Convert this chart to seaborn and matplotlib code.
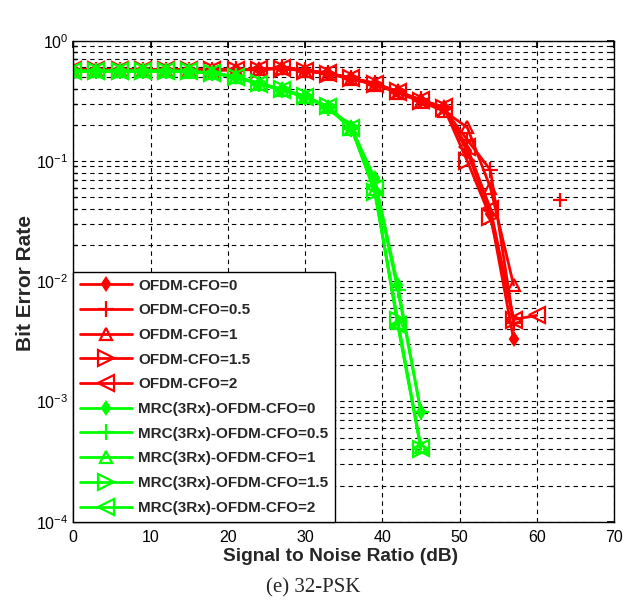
import numpy as np
import pandas as pd
import matplotlib
matplotlib.use("Agg")
import matplotlib.pyplot as plt
import seaborn as sns
from matplotlib.ticker import LogLocator, NullFormatter, MultipleLocator

sns.set_theme(style="white")
plt.rcParams['font.family'] = ['Liberation Sans', 'DejaVu Sans']
plt.rcParams['mathtext.fontset'] = 'custom'
plt.rcParams['mathtext.rm'] = 'Liberation Sans'
plt.rcParams['mathtext.it'] = 'Liberation Sans'

# ---- data ----
snr_red = [0, 3, 6, 9, 12, 15, 18, 21, 24, 27, 30, 33, 36, 39, 42, 45, 48, 51, 54, 57, 60]
snr_green = [0, 3, 6, 9, 12, 15, 18, 21, 24, 27, 30, 33, 36, 39, 42, 45]

ofdm_cfo0 = [0.575, 0.57, 0.575, 0.57, 0.575, 0.57, 0.575, 0.575, 0.58, 0.59, 0.565, 0.535, 0.49, 0.44, 0.38, 0.32, 0.28, 0.12, 0.036, 0.0033]
ofdm_cfo05 = [0.57, 0.575, 0.57, 0.575, 0.57, 0.575, 0.57, 0.58, 0.575, 0.60, 0.57, 0.54, 0.485, 0.445, 0.375, 0.325, 0.27, 0.15, 0.084, 0.0045]
ofdm_cfo05_extra_snr = [63]
ofdm_cfo05_extra = [0.047]
ofdm_cfo1 = [0.57, 0.57, 0.57, 0.57, 0.57, 0.57, 0.565, 0.575, 0.58, 0.59, 0.56, 0.53, 0.48, 0.43, 0.37, 0.31, 0.26, 0.19, 0.06, 0.0093]
ofdm_cfo15 = [0.575, 0.575, 0.575, 0.575, 0.575, 0.575, 0.575, 0.57, 0.575, 0.585, 0.565, 0.53, 0.49, 0.435, 0.38, 0.315, 0.275, 0.10, 0.034, 0.0048]
ofdm_cfo2 = [0.57, 0.57, 0.57, 0.57, 0.57, 0.57, 0.57, 0.575, 0.58, 0.59, 0.565, 0.535, 0.485, 0.44, 0.375, 0.32, 0.28, 0.13, 0.040, 0.0048, 0.0052]

mrc_cfo0 = [0.56, 0.56, 0.56, 0.56, 0.56, 0.555, 0.54, 0.50, 0.44, 0.395, 0.345, 0.28, 0.19, 0.072, 0.0093, 0.00082]
mrc_cfo05 = [0.56, 0.555, 0.56, 0.555, 0.56, 0.555, 0.535, 0.505, 0.435, 0.39, 0.34, 0.275, 0.185, 0.068, 0.0085, 0.00082]
mrc_cfo1 = [0.555, 0.56, 0.555, 0.56, 0.555, 0.55, 0.54, 0.495, 0.44, 0.39, 0.34, 0.28, 0.185, 0.058, 0.0045, 0.00042]
mrc_cfo15 = [0.56, 0.56, 0.56, 0.56, 0.56, 0.555, 0.54, 0.50, 0.445, 0.395, 0.345, 0.285, 0.19, 0.055, 0.0048, 0.00040]
mrc_cfo2 = [0.56, 0.555, 0.56, 0.555, 0.56, 0.555, 0.535, 0.50, 0.44, 0.39, 0.34, 0.28, 0.188, 0.06, 0.0043, 0.00041]

labels = ["OFDM-CFO=0", "OFDM-CFO=0.5", "OFDM-CFO=1", "OFDM-CFO=1.5", "OFDM-CFO=2",
          "MRC(3Rx)-OFDM-CFO=0", "MRC(3Rx)-OFDM-CFO=0.5", "MRC(3Rx)-OFDM-CFO=1",
          "MRC(3Rx)-OFDM-CFO=1.5", "MRC(3Rx)-OFDM-CFO=2"]

RED = "#ff0000"
GREEN = "#00ff00"

fig = plt.figure(figsize=(6.33, 6.01), dpi=100)
ax = fig.add_axes([0.1158, 0.1319, 0.8542, 0.8004])

series = [
    (snr_red[:20], ofdm_cfo0, RED, 'd', True, 6),
    (snr_red[:20], ofdm_cfo05, RED, '+', True, 11),
    (snr_red[:20], ofdm_cfo1, RED, '^', False, 9),
    (snr_red[:20], ofdm_cfo15, RED, '>', False, 11),
    (snr_red[:21], ofdm_cfo2, RED, '<', False, 11),
    (snr_green, mrc_cfo0, GREEN, 'd', True, 6),
    (snr_green, mrc_cfo05, GREEN, '+', True, 11),
    (snr_green, mrc_cfo1, GREEN, '^', False, 9),
    (snr_green, mrc_cfo15, GREEN, '>', False, 11),
    (snr_green, mrc_cfo2, GREEN, '<', False, 11),
]

handles = []
for (xs, ys, col, mk, filled, ms), lab in zip(series, labels):
    df = pd.DataFrame({"snr": xs, "ber": ys})
    sns.lineplot(data=df, x="snr", y="ber", ax=ax, color=col, marker=mk,
                 markersize=ms, markerfacecolor=(col if filled else 'none'),
                 markeredgecolor=col, markeredgewidth=1.6, linewidth=2.0,
                 label=lab, legend=False)
    handles.append(ax.lines[-1])

# isolated point of the CFO=0.5 curve
sns.scatterplot(x=ofdm_cfo05_extra_snr, y=ofdm_cfo05_extra, ax=ax, color=RED,
                marker='+', s=110, linewidth=1.6, legend=False)

ax.set_yscale('log')
ax.set_xlim(0, 70)
ax.set_ylim(1e-4, 1)
ax.xaxis.set_major_locator(MultipleLocator(10))
ax.yaxis.set_major_locator(LogLocator(base=10, numticks=10))
ax.yaxis.set_minor_locator(LogLocator(base=10, subs=np.arange(2, 10), numticks=20))
ax.yaxis.set_minor_formatter(NullFormatter())

ax.grid(True, which='major', axis='both', color='black', linestyle=(0, (4, 3.5)), linewidth=0.8)
ax.grid(True, which='minor', axis='y', color='black', linestyle=(0, (4, 3.5)), linewidth=0.8)
for s in ax.spines.values():
    s.set_color('black')
    s.set_linewidth(1.0)
ax.tick_params(which='both', direction='in', top=True, right=True, labelsize=11.5, colors='black')
ax.tick_params(which='major', length=5)
ax.tick_params(axis='x', which='major', pad=6)
ax.tick_params(which='minor', length=3, left=True, right=True)

ax.set_xlabel("Signal to Noise Ratio (dB)", fontsize=13.8, fontweight='bold')
ax.set_ylabel("Bit Error Rate", fontsize=15, fontweight='bold')
ax.xaxis.set_label_coords(0.495, -0.0536)
ax.yaxis.set_label_coords(-0.0715, 0.497)

leg = ax.legend(handles=handles, labels=labels, loc='lower left', borderaxespad=0,
                frameon=True, fancybox=False, framealpha=1, edgecolor='black',
                prop={'weight': 'bold', 'size': 11}, handlelength=3.4,
                handletextpad=0.4, labelspacing=0.7, borderpad=0.45, numpoints=1)
leg.get_frame().set_linewidth(1.0)

fig.text(0.4945, 0.0225, "(e) 32-PSK", fontsize=15, family=['Liberation Serif'], ha='center', va='center')

fig.savefig("out.png", dpi=100)
